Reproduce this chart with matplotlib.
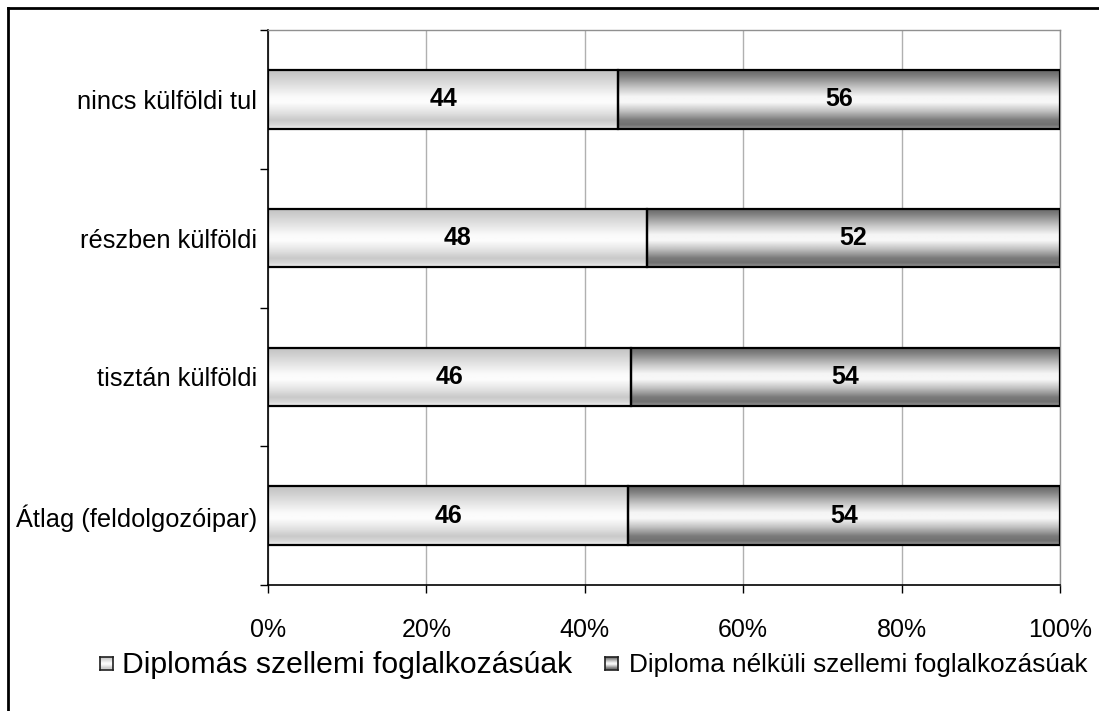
import numpy as np
import matplotlib
matplotlib.use("Agg")
import matplotlib.pyplot as plt
from matplotlib.lines import Line2D
from matplotlib.ticker import FixedLocator, PercentFormatter

plt.rcParams['font.family'] = ['Liberation Sans', 'DejaVu Sans']

categories = ["nincs külföldi tul", "részben külföldi", "tisztán külföldi", "Átlag (feldolgozóipar)"]
diplomas = [44.2, 47.8, 45.8, 45.5]
nem_diplomas = [55.8, 52.2, 54.2, 54.5]
series_names = ["Diplomás szellemi foglalkozásúak", "Diploma nélküli szellemi foglalkozásúak"]
xticks = [0, 20, 40, 60, 80, 100]

W, H = 1099, 711
fig = plt.figure(figsize=(W / 100, H / 100), dpi=100)
ax = fig.add_axes([268 / W, 1 - 585 / H, 792 / W, 555 / H])

def profile(kind, n=200):
    t = np.linspace(0, 1, n)
    st = [0, .1, .3, .45, .55, .7, .85, .93, 1.0]
    if kind == "light":
        sv = [.76, .80, .90, .98, .99, .90, .79, .84, .95]
    else:
        sv = [.40, .50, .78, .96, .97, .75, .48, .44, .60]
    return np.interp(t, st, sv).reshape(-1, 1)

y = np.arange(len(categories))
bh = 0.42
b1 = ax.barh(y, diplomas, height=bh, facecolor='none', edgecolor='black', linewidth=1.6, zorder=3)
b2 = ax.barh(y, nem_diplomas, left=diplomas, height=bh, facecolor='none', edgecolor='black', linewidth=1.6, zorder=3)

for bars, kind in ((b1, "light"), (b2, "dark")):
    g = profile(kind)
    for p in bars.patches:
        x0, y0, w, h = p.get_x(), p.get_y(), p.get_width(), p.get_height()
        ax.imshow(g, extent=[x0, x0 + w, y0 + h, y0], origin='upper', aspect='auto',
                  cmap='gray', vmin=0, vmax=1, zorder=2, interpolation='bilinear')

for bars, vals in ((b1, diplomas), (b2, nem_diplomas)):
    for p, v in zip(bars.patches, vals):
        ax.text(p.get_x() + p.get_width() / 2, p.get_y() + p.get_height() / 2,
                f"{v:.0f}", ha='center', va='center', fontsize=18, fontweight='bold', zorder=4)

ax.set_xlim(0, 100)
ax.set_ylim(len(categories) - 0.5, -0.5)
ax.set_aspect('auto')

ax.set_yticks(y)
ax.set_yticklabels(categories, fontsize=18.3)
ax.tick_params(axis='y', which='major', length=0, pad=8)
ax.yaxis.set_minor_locator(FixedLocator(np.arange(-0.5, len(categories), 1.0)))
ax.tick_params(axis='y', which='minor', length=6, width=1, direction='out', color='black')

ax.set_xticks(xticks)
ax.xaxis.set_major_formatter(PercentFormatter(100, decimals=0))
ax.tick_params(axis='x', which='major', length=6, width=1, direction='out', labelsize=18, pad=18)

ax.grid(axis='x', color='#b0b0b0', linewidth=1, zorder=0)
ax.set_axisbelow(True)
for s in ('top', 'right'):
    ax.spines[s].set_color('#909090')
    ax.spines[s].set_linewidth(1)
ax.spines['left'].set_linewidth(1.2)
ax.spines['bottom'].set_linewidth(1.2)

# Legend (manual, with gradient markers)
def marker(xpx, ypx, kind):
    m = fig.add_axes([xpx / W, 1 - (ypx + 13) / H, 13 / W, 13 / H])
    m.imshow(profile(kind), aspect='auto', cmap='gray', vmin=0, vmax=1, extent=[0, 1, 0, 1])
    m.set_xticks([]); m.set_yticks([])
    for s in m.spines.values():
        s.set_linewidth(1.2)
        s.set_color('#202020')

marker(100, 657, "light")
fig.text(122 / W, 1 - 665 / H, series_names[0], fontsize=21.7, va='center', ha='left')
marker(605, 657, "dark")
fig.text(629 / W, 1 - 665 / H, series_names[1], fontsize=18.8, va='center', ha='left')

# outer frame
fig.add_artist(Line2D([8 / W, 1.0], [1 - 8 / H, 1 - 8 / H], color='black', linewidth=2))
fig.add_artist(Line2D([8 / W, 8 / W], [0, 1 - 8 / H], color='black', linewidth=2))

fig.savefig("out.png", dpi=100)
